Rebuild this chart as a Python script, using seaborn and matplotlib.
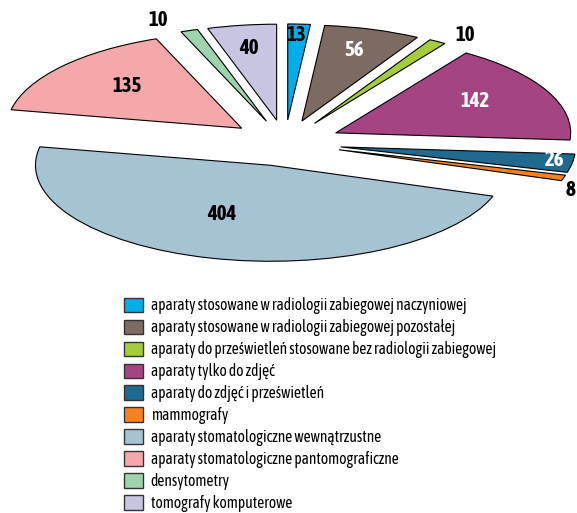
import numpy as np
import matplotlib
matplotlib.use("Agg")
import matplotlib.pyplot as plt
import seaborn as sns

# Liczba aparatów wg rodzaju
categories = [
    "aparaty stosowane w radiologii zabiegowej naczyniowej",
    "aparaty stosowane w radiologii zabiegowej pozostałej",
    "aparaty do prześwietleń stosowane bez radiologii zabiegowej",
    "aparaty tylko do zdjęć",
    "aparaty do zdjęć i prześwietleń",
    "mammografy",
    "aparaty stomatologiczne wewnątrzustne",
    "aparaty stomatologiczne pantomograficzne",
    "densytometry",
    "tomografy komputerowe",
]
values = [13, 56, 10, 142, 26, 8, 404, 135, 10, 40]
colors = ["#00aee9", "#7d6a62", "#a5cd39", "#a44482", "#1f6a8e",
          "#f58220", "#a6c3d4", "#f5a8a9", "#9dd4ae", "#c8c5e2"]

sns.set_theme(style="white")
plt.rcParams["font.family"] = ["Asap Condensed", "DejaVu Sans"]
palette = sns.color_palette(colors)

W, H, DPI = 577, 513, 100
fig = plt.figure(figsize=(W / DPI, H / DPI), dpi=DPI)
ax = fig.add_axes([0, 0, 1, 1])

explode = [0.24] * len(values)
wedges, _ = ax.pie(values, colors=palette, explode=explode, startangle=90,
                   counterclock=False,
                   wedgeprops=dict(edgecolor="black", linewidth=0.8))

# elliptical pie: stretch the unit circle to the axes box
cx, cy, rx, ry = 285, 143, 235, 96
ax.set_aspect("auto")
ax.set_xlim(-cx / rx, (W - cx) / rx)
ax.set_ylim((cy - H) / ry, cy / ry)
ax.axis("off")

# value labels: radial distance and small angular nudge per wedge
label_r = [1.13, 1.01, 1.36, 0.92, 1.16, 1.31, 0.79, 0.90, 1.39, 1.00]
label_da = [0.4, 0.6, -2.7, 2.7, 1.0, -4.9, -5.0, -1.7, 3.6, 0.4]
white_text = {1, 3, 4}
total = sum(values)
cum = np.cumsum([0] + values)
for i, v in enumerate(values):
    mid = 90 - 360 * (cum[i] + cum[i + 1]) / 2 / total + label_da[i]
    t = np.deg2rad(mid)
    ax.text(label_r[i] * np.cos(t), label_r[i] * np.sin(t), str(v),
            ha="center", va="center", fontsize=15, fontweight="bold",
            color="white" if i in white_text else "black")

leg = fig.legend(wedges, categories, loc="upper left",
                 bbox_to_anchor=(124 / W, 1 - 297 / H),
                 bbox_transform=fig.transFigure, frameon=False,
                 fontsize=11.2, borderpad=0, borderaxespad=0,
                 handlelength=1.22, handleheight=1.03, handletextpad=0.5,
                 labelspacing=0.32)
for h in leg.legend_handles:
    h.set_edgecolor("#333333")
    h.set_linewidth(1.0)
for t in leg.get_texts():
    t.set_color("black")

fig.savefig("out.png", dpi=DPI)
